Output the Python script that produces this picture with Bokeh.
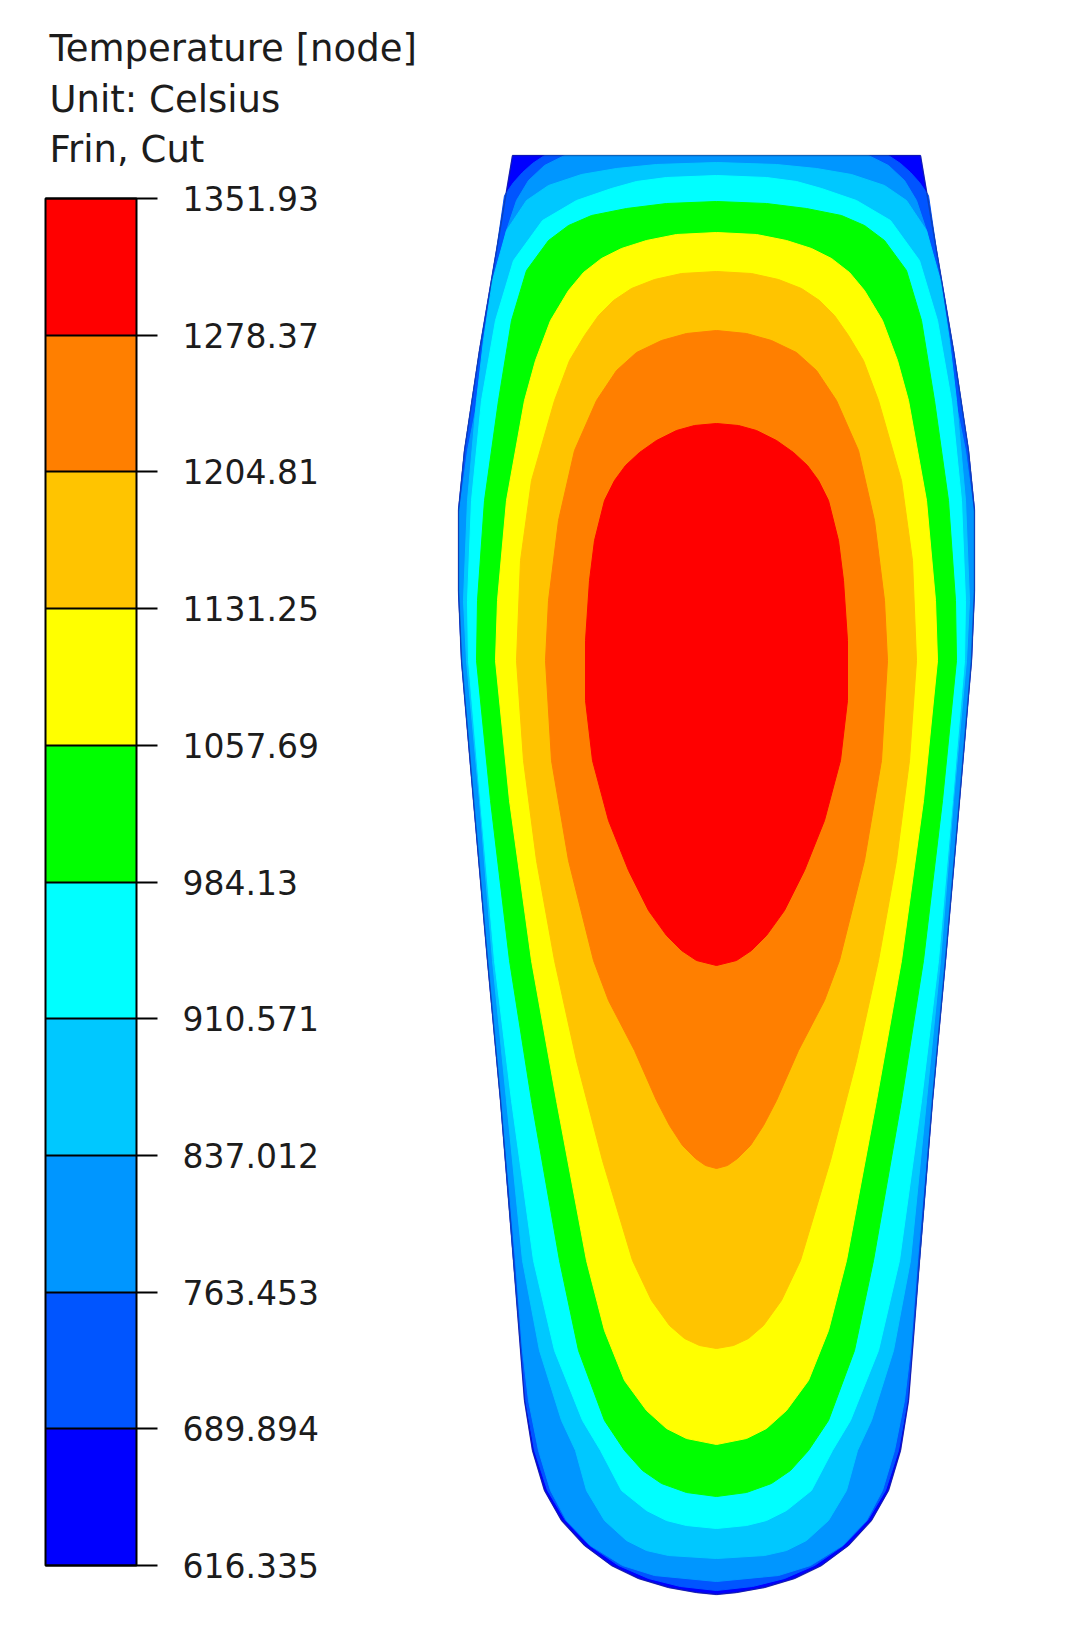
from bokeh.plotting import figure
from bokeh.models import Range1d, FixedTicker, ColorBar, LinearColorMapper
from bokeh.core.properties import value
from bokeh.embed import file_html
from bokeh.resources import INLINE

# ---------------- data ----------------
levels = [616.335, 689.894, 763.453, 837.012, 910.571, 984.13,
          1057.69, 1131.25, 1204.81, 1278.37, 1351.93]
level_labels = ["616.335", "689.894", "763.453", "837.012", "910.571", "984.13",
                "1057.69", "1131.25", "1204.81", "1278.37", "1351.93"]
band_colors = ["#0000FF", "#0055FF", "#0096FF", "#00C8FF", "#00FFFF",
               "#00FF00", "#FFFF00", "#FFC400", "#FF7F00", "#FF0000"]
title_lines = ["Temperature [node]", "Unit: Celsius", "Frin, Cut"]

# isotherm outlines of the cut section (depth from top, half-width from axis)
t616_y = [155, 250, 350, 450, 510, 590, 660, 800, 960, 1100, 1260, 1400, 1450, 1490, 1520, 1545, 1565, 1578, 1587, 1592, 1594]
t616_hw = [204, 220, 237, 252, 258, 258, 255, 243, 229, 216, 203, 192, 184, 172, 155, 132, 105, 78, 48, 20, 0]

t690_y = [155, 163, 172, 182, 195, 250, 350, 450, 510, 590, 660, 800, 960, 1100, 1260, 1400, 1450, 1490, 1520, 1545, 1565, 1578, 1586, 1590]
t690_hw = [172, 184, 194, 203, 212, 220, 237, 252, 258, 258, 255, 243, 229, 216, 203, 191, 182, 169, 151, 127, 98, 68, 36, 0]

t763_y = [155, 165, 180, 200, 230, 270, 330, 400, 450, 510, 590, 660, 800, 960, 1100, 1260, 1350, 1400, 1450, 1490, 1520, 1545, 1565, 1575, 1581]
t763_hw = [152, 172, 188, 200, 210, 219, 229, 239, 249, 257, 257, 254, 242, 228, 215, 201, 194, 188, 178, 166, 150, 126, 94, 62, 0]

t837_y = [162, 164, 168, 174, 185, 200, 230, 280, 340, 400, 500, 600, 660, 800, 960, 1100, 1260, 1350, 1420, 1450, 1490, 1520, 1540, 1550, 1555, 1558]
t837_hw = [0, 60, 100, 135, 168, 190, 210, 224, 233, 240, 249, 253, 250, 237, 224, 210, 194, 177, 155, 141, 130, 112, 90, 70, 48, 0]

t910_y = [175, 177, 181, 188, 200, 220, 260, 320, 400, 500, 600, 660, 800, 960, 1100, 1260, 1350, 1420, 1450, 1490, 1510, 1520, 1525, 1528]
t910_hw = [0, 50, 80, 105, 140, 174, 203, 221, 235, 245, 249, 248, 236, 222, 205, 183, 162, 134, 116, 95, 70, 50, 30, 0]

t984_y = [201, 203, 208, 215, 225, 240, 270, 320, 400, 500, 600, 660, 800, 960, 1100, 1260, 1350, 1420, 1450, 1470, 1483, 1492, 1496]
t984_hw = [0, 50, 90, 125, 148, 168, 190, 205, 218, 232, 239, 240, 226, 207, 185, 157, 138, 112, 92, 74, 55, 30, 0]

t1058_y = [232, 234, 240, 248, 258, 272, 290, 320, 360, 400, 500, 600, 660, 800, 960, 1100, 1260, 1330, 1380, 1410, 1428, 1438, 1444]
t1058_hw = [0, 40, 70, 95, 115, 133, 148, 166, 181, 192, 210, 219, 221, 207, 185, 160, 130, 112, 92, 70, 50, 30, 0]

t1131_y = [271, 273, 279, 288, 300, 315, 335, 360, 400, 480, 560, 660, 760, 860, 960, 1060, 1160, 1260, 1300, 1325, 1338, 1345, 1348]
t1131_hw = [0, 35, 62, 85, 103, 118, 132, 147, 162, 185, 196, 200, 193, 180, 162, 140, 114, 84, 65, 47, 32, 17, 0]

t1205_y = [330, 333, 340, 352, 370, 400, 450, 520, 600, 660, 760, 860, 960, 1000, 1050, 1100, 1125, 1145, 1158, 1165, 1168]
t1205_hw = [0, 30, 55, 80, 100, 120, 142, 158, 168, 171, 165, 148, 123, 108, 82, 60, 47, 34, 21, 11, 0]

t1278_y = [423, 425, 430, 440, 452, 465, 480, 500, 540, 580, 640, 700, 760, 820, 870, 910, 935, 950, 960, 965]
t1278_hw = [0, 22, 40, 60, 77, 91, 102, 112, 122, 127, 131, 131, 124, 108, 88, 68, 50, 35, 20, 0]

isotherms = [(t616_y, t616_hw), (t690_y, t690_hw), (t763_y, t763_hw), (t837_y, t837_hw),
             (t910_y, t910_hw), (t984_y, t984_hw), (t1058_y, t1058_hw), (t1131_y, t1131_hw),
             (t1205_y, t1205_hw), (t1278_y, t1278_hw)]

# ---------------- figure (data units = page pixels) ----------------
FONT = "DejaVu Sans"
TXT = "#1c1c1c"
W, H = 1085, 1647

p = figure(width=W, height=H, output_backend="svg", toolbar_location=None,
           x_range=Range1d(0, W), y_range=Range1d(H, 0),
           x_axis_location=None, y_axis_location=None, min_border=0)
p.grid.visible = False
p.outline_line_color = None
p.background_fill_color = "white"
p.border_fill_color = "white"

# section contour bands (outer to inner)
CX = 716
xs, ys = [], []
for yv, hw in isotherms:
    xs.append([CX + h for h in hw] + [CX - h for h in reversed(hw)])
    ys.append(list(yv) + list(reversed(yv)))
p.patches(xs=xs, ys=ys, fill_color=band_colors, line_color=band_colors, line_width=1)
# faint dark rim of the section
p.line(x=xs[0] + [xs[0][0]], y=ys[0] + [ys[0][0]], line_color="#1a2a6a", line_alpha=0.45, line_width=1.5)

# legend title
p.text(x=[49] * len(title_lines), y=[48 + 50.5 * i for i in range(len(title_lines))],
       text=title_lines, text_font=value(FONT), text_font_size="37px",
       text_color=TXT, text_baseline="alphabetic", text_align="left")

# colour bar
mapper = LinearColorMapper(palette=band_colors, low=levels[0], high=levels[-1])
cb = ColorBar(color_mapper=mapper, ticker=FixedTicker(ticks=levels),
              major_label_overrides={lv: lab for lv, lab in zip(levels, level_labels)},
              orientation="vertical", width=91, height=1367,
              location=(45, 82), padding=0, margin=0,
              bar_line_color="black", bar_line_width=2,
              major_tick_in=91, major_tick_out=21,
              major_tick_line_color="black", major_tick_line_width=2,
              minor_tick_line_color=None,
              label_standoff=25,
              major_label_text_font=FONT, major_label_text_font_size="33px",
              major_label_text_color=TXT,
              background_fill_alpha=0, border_line_color=None)
p.add_layout(cb)

open("out.html", "w").write(file_html(p, INLINE))
